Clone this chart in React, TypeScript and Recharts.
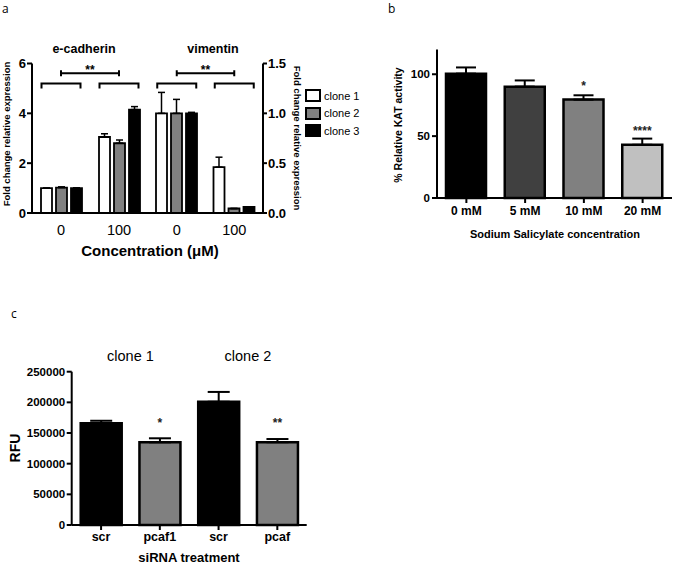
import React from 'react';
import {
  BarChart,
  Bar,
  XAxis,
  YAxis,
  ErrorBar,
  Cell,
  LabelList,
  ReferenceLine,
  Legend,
} from 'recharts';

const FONT = '"Liberation Sans", Arial, Helvetica, sans-serif';

// panel a - e-cadherin / vimentin fold change
const CONC = ['0', '100'];
const CLONE_NAMES = ['clone 1', 'clone 2', 'clone 3'];
const CLONE_FILLS = ['#ffffff', '#808080', '#000000'];
const ECAD_C1 = [1.0, 3.05];
const ECAD_C2 = [1.02, 2.8];
const ECAD_C3 = [1.0, 4.15];
const ECAD_SD1 = [0.0, 0.13];
const ECAD_SD2 = [0.03, 0.13];
const ECAD_SD3 = [0.01, 0.12];
const VIM_C1 = [1.0, 0.46];
const VIM_C2 = [1.0, 0.045];
const VIM_C3 = [1.0, 0.06];
const VIM_SD1 = [0.21, 0.1];
const VIM_SD2 = [0.14, 0.0];
const VIM_SD3 = [0.01, 0.0];

// panel b - KAT activity
const SALICYLATE = ['0 mM', '5 mM', '10 mM', '20 mM'];
const KAT_MEAN = [100.5, 90, 79.5, 43];
const KAT_SD = [5, 5, 3.5, 5];
const KAT_SIG = ['', '', '*', '****'];
const KAT_FILLS = ['#000000', '#404040', '#808080', '#c0c0c0'];

// panel c - siRNA RFU
const SIRNA = ['scr', 'pcaf1', 'scr', 'pcaf'];
const SIRNA_CLONE = ['clone 1', 'clone 1', 'clone 2', 'clone 2'];
const RFU_MEAN = [165800, 134900, 201000, 135000];
const RFU_SD = [4200, 6500, 16000, 5200];
const RFU_SIG = ['', '*', '', '**'];
const RFU_FILLS = ['#000000', '#808080', '#000000', '#808080'];

const ecadData = CONC.map((c, i) => ({
  conc: c,
  c1: ECAD_C1[i],
  c2: ECAD_C2[i],
  c3: ECAD_C3[i],
  e1: [0, ECAD_SD1[i]],
  e2: [0, ECAD_SD2[i]],
  e3: [0, ECAD_SD3[i]],
}));

const vimData = CONC.map((c, i) => ({
  conc: c,
  c1: VIM_C1[i],
  c2: VIM_C2[i],
  c3: VIM_C3[i],
  e1: [0, VIM_SD1[i]],
  e2: [0, VIM_SD2[i]],
  e3: [0, VIM_SD3[i]],
}));

const katData = SALICYLATE.map((s, i) => ({
  dose: s,
  kat: KAT_MEAN[i],
  err: [0, KAT_SD[i]],
  sig: KAT_SIG[i],
}));

const rfuData = SIRNA.map((s, i) => ({
  treat: s,
  clone: SIRNA_CLONE[i],
  rfu: RFU_MEAN[i],
  err: [0, RFU_SD[i]],
  sig: RFU_SIG[i],
}));

const axisLine = { stroke: '#000', strokeWidth: 2 };
const tickLine = { stroke: '#000', strokeWidth: 2 };
const boldTick = (size: number) => ({
  fontSize: size,
  fontWeight: 'bold',
  fill: '#000',
  fontFamily: FONT,
});

// bracket spanning a bar group, ends pointing down
const groupBracket = (p: any) => (
  <path
    d={`M${p.x1 - 19.5},${p.y1 + 5}V${p.y1}H${p.x2 + 19.5}V${p.y1 + 5}`}
    fill="none"
    stroke="#000"
    strokeWidth={2}
  />
);

// comparison line between groups with significance stars
const compareLine = (p: any) => (
  <g>
    <path
      d={`M${p.x1},${p.y1 - 3}V${p.y1 + 3}M${p.x1},${p.y1}H${p.x2}M${p.x2},${p.y1 - 3}V${p.y1 + 3}`}
      fill="none"
      stroke="#000"
      strokeWidth={2}
    />
    <text
      x={(p.x1 + p.x2) / 2}
      y={p.y1 + 1}
      textAnchor="middle"
      fontSize={12}
      fontWeight="bold"
      fontFamily={FONT}
      fill="#000"
    >
      **
    </text>
  </g>
);

const starLabel = (lift: number) => (p: any) =>
  p.value ? (
    <text
      x={p.x + p.width / 2}
      y={p.y - lift}
      textAnchor="middle"
      fontSize={12}
      fontWeight="bold"
      fontFamily={FONT}
      fill="#222"
    >
      {p.value}
    </text>
  ) : null;

const CloneLegend = ({ payload }: any) => (
  <div style={{ fontFamily: FONT, fontSize: 11, color: '#000' }}>
    {(payload || []).map((p: any) => (
      <div
        key={p.value}
        style={{ display: 'flex', alignItems: 'center', height: 17.5 }}
      >
        <span
          style={{
            display: 'inline-block',
            width: 12,
            height: 9,
            border: '2px solid #000',
            background: p.color,
          }}
        />
        <span style={{ marginLeft: 3 }}>{p.value}</span>
      </div>
    ))}
  </div>
);

const cloneBars = (yAxisId: string, cap: number) =>
  CLONE_NAMES.map((name, k) => (
    <Bar
      key={name}
      yAxisId={yAxisId}
      dataKey={`c${k + 1}`}
      name={name}
      fill={CLONE_FILLS[k]}
      stroke="#000"
      strokeWidth={1.8}
      isAnimationActive={false}
    >
      <ErrorBar
        dataKey={`e${k + 1}`}
        width={cap}
        stroke="#000"
        strokeWidth={1.5}
        isAnimationActive={false}
      />
    </Bar>
  ));

const Overlay = () => (
  <svg
    width={675}
    height={565}
    style={{ position: 'absolute', left: 0, top: 0, pointerEvents: 'none' }}
  >
    <g fontFamily='"Open Sans", "Noto Sans", sans-serif' fontSize={12} fill="#000">
      <text x={2} y={13}>a</text>
      <text x={388} y={13}>b</text>
      <text x={11} y={318}>c</text>
    </g>
    <g fontFamily={FONT} fontWeight="bold" fill="#000" textAnchor="middle">
      <text x={84} y={52.5} fontSize={12.5}>e-cadherin</text>
      <text x={213} y={52.5} fontSize={12.5}>vimentin</text>
      <text x={150} y={255.5} fontSize={15}>Concentration (μM)</text>
      <text
        x={6}
        y={134}
        fontSize={9.5}
        dominantBaseline="central"
        transform="rotate(-90 6 134)"
      >
        Fold change relative expression
      </text>
      <text
        x={297}
        y={138}
        fontSize={9.5}
        dominantBaseline="central"
        transform="rotate(90 297 138)"
      >
        Fold change relative expression
      </text>
      <text
        x={397.5}
        y={125}
        fontSize={10.5}
        dominantBaseline="central"
        transform="rotate(-90 397.5 125)"
      >
        % Relative KAT activity
      </text>
      <text x={555} y={238} fontSize={11}>Sodium Salicylate concentration</text>
      <text
        x={15}
        y={448}
        fontSize={14}
        dominantBaseline="central"
        transform="rotate(-90 15 448)"
      >
        RFU
      </text>
      <text x={189} y={562} fontSize={13}>siRNA treatment</text>
    </g>
  </svg>
);

export default function App() {
  return (
    <div
      style={{
        position: 'absolute',
        left: 0,
        top: 0,
        width: 675,
        height: 565,
        background: '#fff',
        overflow: 'hidden',
      }}
    >
      {/* panel a, e-cadherin half */}
      <div style={{ position: 'absolute', left: 0, top: 0 }}>
        <BarChart
          width={148}
          height={260}
          data={ecadData}
          margin={{ top: 63.5, right: 0, bottom: 17, left: 0 }}
          barSize={11}
          barGap={4}
        >
          <XAxis
            dataKey="conc"
            height={30}
            axisLine={axisLine}
            tickLine={false}
            tickSize={6}
            tickMargin={5.4}
            tick={{ fontSize: 14.5, fill: '#000', fontFamily: FONT }}
          />
          <YAxis
            yAxisId="ecad"
            width={32}
            domain={[0, 6]}
            ticks={[0, 2, 4, 6]}
            axisLine={axisLine}
            tickLine={tickLine}
            tickSize={5}
            tickMargin={1}
            tick={boldTick(13)}
          />
          {cloneBars('ecad', 3.5)}
          <ReferenceLine
            yAxisId="ecad"
            segment={[{ x: '0', y: 5.2 }, { x: '0', y: 5.2 }]}
            shape={groupBracket}
          />
          <ReferenceLine
            yAxisId="ecad"
            segment={[{ x: '100', y: 5.2 }, { x: '100', y: 5.2 }]}
            shape={groupBracket}
          />
          <ReferenceLine
            yAxisId="ecad"
            segment={[{ x: '0', y: 5.61 }, { x: '100', y: 5.61 }]}
            shape={compareLine}
          />
        </BarChart>
      </div>

      {/* panel a, vimentin half */}
      <div style={{ position: 'absolute', left: 148, top: 0 }}>
        <BarChart
          width={230}
          height={260}
          data={vimData}
          margin={{ top: 63.5, right: 80, bottom: 17, left: 0 }}
          barSize={11}
          barGap={4}
        >
          <XAxis
            dataKey="conc"
            height={30}
            axisLine={axisLine}
            tickLine={false}
            tickSize={6}
            tickMargin={5.4}
            tick={{ fontSize: 14.5, fill: '#000', fontFamily: FONT }}
          />
          <YAxis
            yAxisId="divider"
            orientation="left"
            width={0}
            domain={[0, 1]}
            tick={false}
            tickLine={false}
            axisLine={{ stroke: '#c4c4c4', strokeWidth: 1.2, strokeDasharray: '2 1' }}
          />
          <YAxis
            yAxisId="vim"
            orientation="right"
            width={35}
            domain={[0, 1.5]}
            ticks={[0, 0.5, 1, 1.5]}
            tickFormatter={(v: number) => v.toFixed(1)}
            axisLine={axisLine}
            tickLine={tickLine}
            tickSize={4}
            tickMargin={1}
            tick={boldTick(13)}
          />
          {cloneBars('vim', 3.5)}
          <ReferenceLine
            yAxisId="vim"
            segment={[{ x: '0', y: 1.3 }, { x: '0', y: 1.3 }]}
            shape={groupBracket}
          />
          <ReferenceLine
            yAxisId="vim"
            segment={[{ x: '100', y: 1.3 }, { x: '100', y: 1.3 }]}
            shape={groupBracket}
          />
          <ReferenceLine
            yAxisId="vim"
            segment={[{ x: '0', y: 1.403 }, { x: '100', y: 1.403 }]}
            shape={compareLine}
          />
          <Legend
            layout="vertical"
            align="center"
            verticalAlign="middle"
            wrapperStyle={{ left: 157, top: 87, width: 70 }}
            content={<CloneLegend />}
          />
        </BarChart>
      </div>

      {/* panel b */}
      <div style={{ position: 'absolute', left: 340, top: 0 }}>
        <BarChart
          width={335}
          height={260}
          data={katData}
          margin={{ top: 49.5, right: 3, bottom: 32, left: 0 }}
          barSize={40}
        >
          <XAxis
            dataKey="dose"
            height={30}
            axisLine={axisLine}
            tickLine={tickLine}
            tickSize={5}
            tickMargin={3}
            tick={boldTick(12)}
          />
          <YAxis
            width={97}
            domain={[0, 120]}
            ticks={[0, 50, 100]}
            axisLine={axisLine}
            tickLine={tickLine}
            tickSize={5}
            tickMargin={2}
            tick={boldTick(11.5)}
          />
          <Bar
            dataKey="kat"
            stroke="#000"
            strokeWidth={2.5}
            isAnimationActive={false}
          >
            {katData.map((d, i) => (
              <Cell key={d.dose} fill={KAT_FILLS[i]} />
            ))}
            <ErrorBar
              dataKey="err"
              width={10}
              stroke="#000"
              strokeWidth={2}
              isAnimationActive={false}
            />
            <LabelList dataKey="sig" content={starLabel(9.5)} />
          </Bar>
        </BarChart>
      </div>

      {/* panel c */}
      <div style={{ position: 'absolute', left: 0, top: 300 }}>
        <BarChart
          width={320}
          height={265}
          data={rfuData}
          margin={{ top: 41.7, right: 13.3, bottom: 10, left: 0 }}
          barSize={41}
        >
          <XAxis
            dataKey="treat"
            height={30}
            axisLine={axisLine}
            tickLine={tickLine}
            tickSize={5}
            tickMargin={2}
            tick={boldTick(12.5)}
          />
          <XAxis
            xAxisId="clone"
            dataKey="clone"
            orientation="top"
            allowDuplicatedCategory={false}
            height={30}
            axisLine={false}
            tickLine={false}
            tickSize={0}
            tickMargin={10.5}
            tick={{ fontSize: 14.5, fill: '#000', fontFamily: FONT }}
          />
          <YAxis
            width={71.7}
            domain={[0, 250000]}
            ticks={[0, 50000, 100000, 150000, 200000, 250000]}
            axisLine={axisLine}
            tickLine={tickLine}
            tickSize={5}
            tickMargin={1.5}
            tick={boldTick(11.5)}
          />
          <Bar
            dataKey="rfu"
            stroke="#000"
            strokeWidth={2.5}
            isAnimationActive={false}
          >
            {rfuData.map((d, i) => (
              <Cell key={i} fill={RFU_FILLS[i]} />
            ))}
            <ErrorBar
              dataKey="err"
              width={11}
              stroke="#000"
              strokeWidth={2}
              isAnimationActive={false}
            />
            <LabelList dataKey="sig" content={starLabel(15)} />
          </Bar>
        </BarChart>
      </div>

      <Overlay />
    </div>
  );
}
